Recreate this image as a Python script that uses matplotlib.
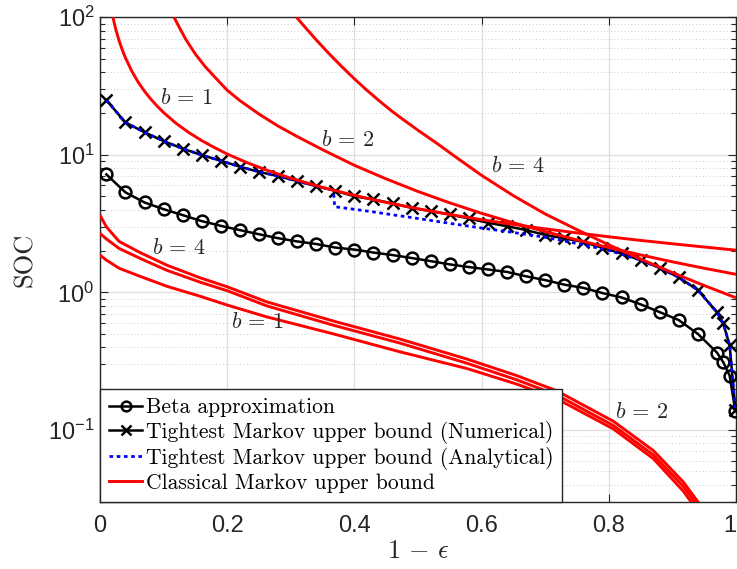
import matplotlib
matplotlib.use('Agg')
import matplotlib.pyplot as plt
import matplotlib.transforms as mtransforms
from matplotlib.ticker import LogLocator, NullFormatter
from matplotlib.lines import Line2D

plt.rcParams['mathtext.fontset'] = 'cm'
plt.rcParams['font.family'] = ['Liberation Sans', 'DejaVu Sans']

# ---------------- data ----------------
x_grid = [0.01, 0.04, 0.07, 0.10, 0.13, 0.16, 0.19, 0.22, 0.25, 0.28, 0.31,
          0.34, 0.37, 0.40, 0.43, 0.46, 0.49, 0.52, 0.55, 0.58, 0.61, 0.64,
          0.67, 0.70, 0.73, 0.76, 0.79, 0.82, 0.85, 0.88, 0.91, 0.94, 0.97,
          0.98, 0.99, 0.999]

beta_approx = [7.21, 5.34, 4.51, 4.03, 3.65, 3.30, 3.05, 2.84, 2.65, 2.48, 2.35,
               2.25, 2.12, 2.05, 1.95, 1.87, 1.78, 1.69, 1.60, 1.53, 1.47, 1.41,
               1.31, 1.23, 1.14, 1.08, 0.99, 0.92, 0.82, 0.72, 0.63, 0.50, 0.366,
               0.311, 0.249, 0.137]

tight_numerical = [25.0, 17.2, 14.6, 12.6, 11.1, 9.97, 9.06, 8.20, 7.53, 7.01, 6.45,
                   5.93, 5.48, 5.00, 4.74, 4.44, 4.12, 3.90, 3.69, 3.45, 3.21, 3.03,
                   2.84, 2.62, 2.47, 2.33, 2.11, 1.92, 1.72, 1.51, 1.29, 1.04, 0.72,
                   0.595, 0.414, 0.14]

x_analytical = [0.01, 0.04, 0.07, 0.10, 0.13, 0.16, 0.19, 0.22, 0.25, 0.28, 0.31,
                0.34, 0.367, 0.369, 0.40, 0.43, 0.46, 0.50, 0.55, 0.60, 0.65, 0.70,
                0.75, 0.80, 0.85, 0.88, 0.91, 0.94, 0.97, 0.98, 0.99, 0.999]
tight_analytical = [25.0, 17.2, 14.6, 12.6, 11.1, 9.97, 9.06, 8.20, 7.53, 7.01, 6.45,
                    5.93, 5.55, 4.20, 4.02, 3.85, 3.67, 3.45, 3.18, 2.94, 2.73, 2.52,
                    2.27, 2.02, 1.72, 1.51, 1.29, 1.04, 0.72, 0.595, 0.414, 0.14]

# classical Markov bounds, upper family
x_up_b1 = [0.0203, 0.025, 0.03, 0.035, 0.04, 0.05, 0.06, 0.07, 0.08, 0.09, 0.10,
           0.12, 0.14, 0.16, 0.18, 0.20, 0.23, 0.26, 0.30, 0.35, 0.40, 0.45,
           0.50, 0.55, 0.60, 0.65, 0.70, 0.75, 0.80, 0.85, 0.90, 0.95, 1.0]
y_up_b1 = [100, 81.2, 67.7, 58.0, 50.8, 40.6, 33.8, 29.0, 25.4, 22.6, 20.3,
           16.9, 14.5, 12.7, 11.3, 10.15, 8.83, 7.81, 6.77, 5.80, 5.08, 4.51,
           4.06, 3.69, 3.38, 3.12, 2.90, 2.71, 2.54, 2.39, 2.26, 2.14, 2.03]

x_up_b2 = [0.1164, 0.125, 0.135, 0.15, 0.165, 0.18, 0.20, 0.22, 0.25, 0.28, 0.31,
           0.35, 0.40, 0.45, 0.50, 0.55, 0.60, 0.65, 0.70, 0.75, 0.80, 0.85,
           0.90, 0.95, 1.0]
y_up_b2 = [100, 84, 69, 54, 44, 37, 29.5, 24.8, 19.8, 16.2, 13.6,
           10.9, 8.4, 6.69, 5.42, 4.48, 3.76, 3.21, 2.77, 2.41, 2.12, 1.875,
           1.67, 1.50, 1.355]

x_up_b4 = [0.309, 0.32, 0.34, 0.36, 0.38, 0.40, 0.42, 0.44, 0.46, 0.48, 0.50,
           0.53, 0.56, 0.60, 0.65, 0.70, 0.75, 0.80, 0.85, 0.90, 0.95, 1.0]
y_up_b4 = [100, 87.3, 68.5, 54.5, 43.9, 35.7, 29.4, 24.5, 20.6, 17.6, 15.1,
           12.1, 9.6, 7.1, 5.05, 3.72, 2.86, 2.22, 1.75, 1.395, 1.123, 0.915]

# classical Markov bounds, lower family
x_low = [0.0, 0.01, 0.03, 0.063, 0.105, 0.157, 0.2, 0.262, 0.367, 0.472, 0.577,
         0.655, 0.718, 0.807, 0.87, 0.917, 0.945]
y_low_b4 = [3.65, 3.0, 2.35, 1.95, 1.58, 1.28, 1.10, 0.855, 0.62, 0.458, 0.328,
            0.249, 0.193, 0.116, 0.071, 0.042, 0.028]
y_low_b2 = [2.69, 2.45, 2.09, 1.77, 1.45, 1.19, 1.03, 0.80, 0.578, 0.428, 0.306,
            0.232, 0.180, 0.108, 0.066, 0.039, 0.026]
y_low_b1 = [1.87, 1.72, 1.50, 1.31, 1.11, 0.94, 0.81, 0.665, 0.50, 0.37, 0.28,
            0.216, 0.169, 0.102, 0.062, 0.036, 0.024]

curve_labels = [r'$b\,=\,1$', r'$b\,=\,2$', r'$b\,=\,4$',
                r'$b\,=\,4$', r'$b\,=\,1$', r'$b\,=\,2$']
label_x = [0.135, 0.389, 0.657, 0.124, 0.247, 0.852]
label_y = [25.5, 12.8, 8.3, 2.08, 0.61, 0.134]

legend_labels = ['Beta approximation',
                 'Tightest Markov upper bound (Numerical)',
                 'Tightest Markov upper bound (Analytical)',
                 'Classical Markov upper bound']

xtick_vals = [0, 0.2, 0.4, 0.6, 0.8, 1]
xtick_text = ['0', '0.2', '0.4', '0.6', '0.8', '1']
ytick_vals = [0.1, 1, 10, 100]
ytick_text = [r'$\mathregular{10^{-1}}$', r'$\mathregular{10^{0}}$',
              r'$\mathregular{10^{1}}$', r'$\mathregular{10^{2}}$']

# ---------------- figure ----------------
W, H = 737, 569
fig = plt.figure(figsize=(W / 100, H / 100), dpi=100)
ax = fig.add_axes([100 / W, 1 - 502 / H, 636 / W, (502 - 17.3) / H])

dark = (0.15, 0.15, 0.15)

ax.set_yscale('log')
ax.set_xlim(0, 1)
ax.set_ylim(0.03, 100)

ax.plot(x_grid, beta_approx, '-', color='k', lw=1.8, marker='o', ms=8.5,
        mfc='none', mew=1.8, zorder=3)
ax.plot(x_grid, tight_numerical, '-', color='k', lw=1.8, marker='x', ms=8.5,
        mew=1.8, zorder=3)
ax.plot(x_analytical, tight_analytical, color='b', lw=2.0, dashes=(1.3, 1.3),
        zorder=4)
for xs, ys in [(x_up_b1, y_up_b1), (x_up_b2, y_up_b2), (x_up_b4, y_up_b4),
               (x_low, y_low_b4), (x_low, y_low_b2), (x_low, y_low_b1)]:
    ax.plot(xs, ys, '-', color='r', lw=2.1, zorder=5, solid_capstyle='butt',
            solid_joinstyle='round')

for t, lx, ly in zip(curve_labels, label_x, label_y):
    ax.text(lx, ly, t, fontsize=16, ha='center', va='center', color=dark,
            zorder=6)

# ticks & grid
ax.set_xticks(xtick_vals)
ax.set_xticklabels(xtick_text)
ax.set_yticks(ytick_vals)
ax.set_yticklabels(ytick_text)
ax.yaxis.set_minor_locator(LogLocator(base=10, subs=[2, 3, 4, 5, 6, 7, 8, 9]))
ax.yaxis.set_minor_formatter(NullFormatter())
ax.tick_params(which='both', direction='in', top=True, right=True, colors=dark,
               labelsize=17, width=0.8)
ax.tick_params(which='major', length=6)
ax.tick_params(which='minor', length=3.5)
ax.tick_params(axis='x', pad=9)
ax.tick_params(axis='y', pad=4)
last = ax.get_xticklabels()[-1]
last.set_transform(last.get_transform() +
                   mtransforms.ScaledTranslation(-6 / 100, 0, fig.dpi_scale_trans))
ax.grid(True, which='major', color=(0.87, 0.87, 0.87), lw=0.9, ls='-')
ax.grid(True, which='minor', axis='y', color=(0.8, 0.8, 0.8), lw=0.7,
        ls=(0, (1, 2.5)))
ax.set_axisbelow(True)
for s in ax.spines.values():
    s.set_color(dark)
    s.set_linewidth(1.0)

ax.set_xlabel(r'$1\,-\,\epsilon$', fontsize=19, color=dark, labelpad=2)
ax.set_ylabel('SOC', fontsize=19, color=dark, family='cmr10', labelpad=8)

handles = [Line2D([], [], color='k', lw=1.8, marker='o', ms=7, mfc='none', mew=1.8),
           Line2D([], [], color='k', lw=1.8, marker='x', ms=7, mew=1.8),
           Line2D([], [], color='b', lw=2.0, dashes=(1.3, 1.3)),
           Line2D([], [], color='r', lw=2.1)]
leg = ax.legend(handles, legend_labels, loc='lower left', bbox_to_anchor=(0, 0),
                borderaxespad=0, frameon=True, fancybox=False, framealpha=1,
                edgecolor=dark, prop={'family': 'cmr10', 'size': 15.5},
                handlelength=1.55, handletextpad=0.15, labelspacing=0.16,
                borderpad=0.42)
leg.get_frame().set_linewidth(1.0)
leg.set_zorder(10)

fig.savefig('out.png', dpi=100)
